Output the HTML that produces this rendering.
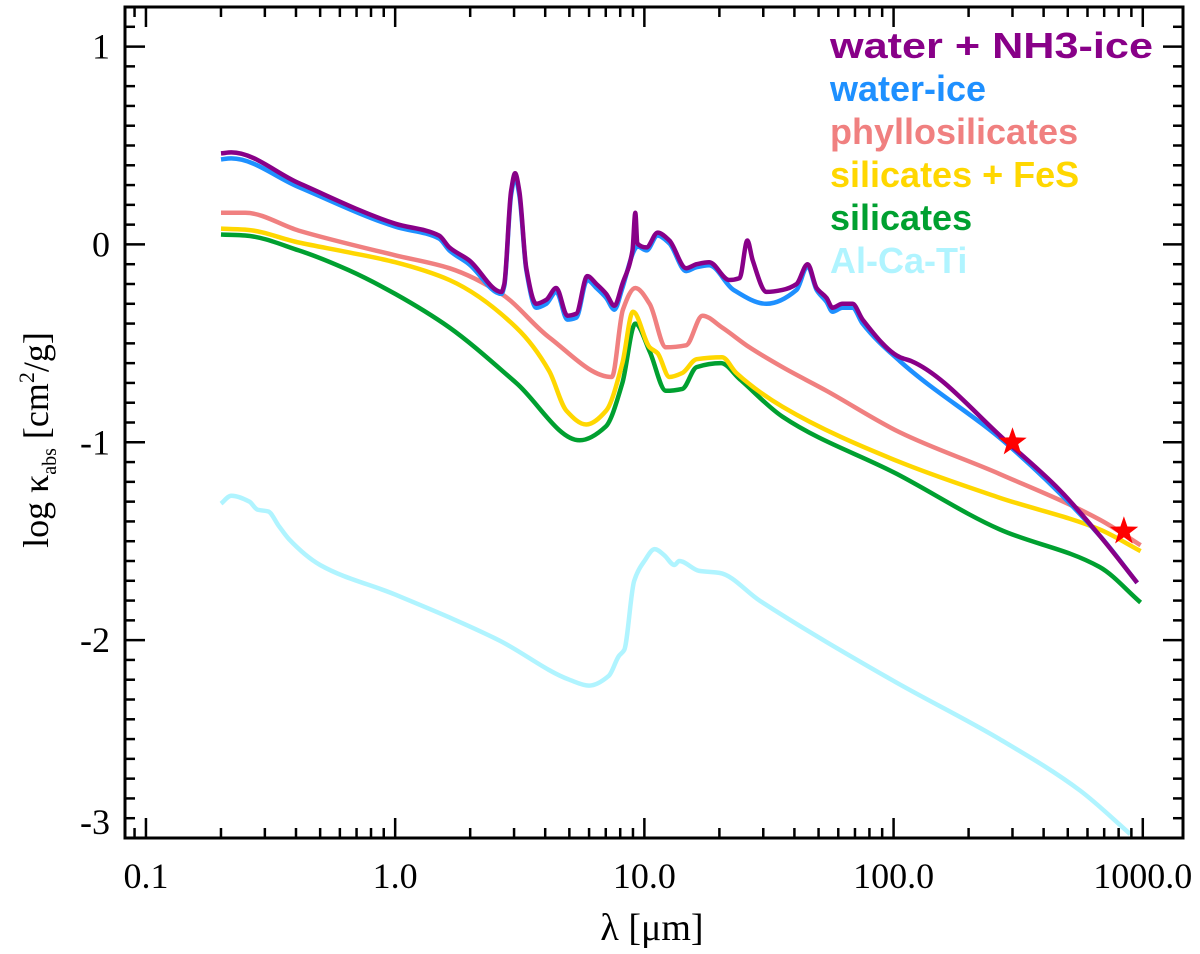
<!DOCTYPE html>
<html><head><meta charset="utf-8"><style>
html,body{margin:0;padding:0;background:#fff;}
svg{display:block;}
</style></head><body>
<svg id="chart" width="1200" height="954" xmlns="http://www.w3.org/2000/svg">
<g id="plot"></g>
<g id="axes"></g>
<g id="legend" font-family="'Liberation Sans', sans-serif" font-weight="bold" font-size="36">
<text x="830" y="58" fill="#880088" textLength="323" lengthAdjust="spacingAndGlyphs">water + NH3-ice</text>
<text x="830" y="101" fill="#1e90ff">water-ice</text>
<text x="830" y="144" fill="#f08080">phyllosilicates</text>
<text x="830" y="187" fill="#ffd700">silicates + FeS</text>
<text x="830" y="230" fill="#00a030">silicates</text>
<text x="830" y="273" fill="#b0f4ff">Al-Ca-Ti</text>
</g>
<text x="652" y="940" text-anchor="middle" font-family="'Liberation Serif', serif" font-size="38">λ [μm]</text>
<text transform="translate(48,440) rotate(-90)" text-anchor="middle" font-family="'Liberation Serif', serif" font-size="36">log κ<tspan font-size="20" dy="8">abs</tspan><tspan dy="-8"> [cm</tspan><tspan font-size="22" dy="-14">2</tspan><tspan dy="14">/g]</tspan></text>
</svg>
<script>
const xTickValues = [0.1, 1, 10, 100, 1000];
const xTickLabels = ["0.1", "1.0", "10.0", "100.0", "1000.0"];
const yTickValues = [1, 0, -1, -2, -3];
const yTickLabels = ["1", "0", "-1", "-2", "-3"];

const lamNH3 = [0.2,0.22,0.41,1.0,1.5,1.65,1.98,2.67,2.74,2.92,3.03,3.15,3.36,3.68,4.04,4.43,4.91,5.33,5.9,6.42,7.03,7.58,8.16,8.96,9.2,9.37,10.2,11.3,12.6,14.7,16.2,18.2,21.9,24.1,25.9,27.2,30.9,35.8,40.8,45.2,49.1,53.8,56.9,62.4,68.4,75.1,106,118,286,463,670,950];
const valNH3 = [0.46,0.465,0.31,0.105,0.045,-0.015,-0.08,-0.24,-0.2,0.27,0.36,0.27,-0.12,-0.3,-0.28,-0.22,-0.36,-0.35,-0.16,-0.2,-0.25,-0.31,-0.2,-0.03,0.16,0.005,-0.015,0.06,0.02,-0.12,-0.1,-0.09,-0.18,-0.17,0.02,-0.08,-0.24,-0.23,-0.2,-0.1,-0.22,-0.27,-0.32,-0.3,-0.3,-0.38,-0.57,-0.59,-1.0,-1.24,-1.47,-1.71];

const lamWater = [0.2,0.22,0.41,1.0,1.5,1.65,1.98,2.67,2.74,2.92,3.03,3.15,3.36,3.68,4.04,4.43,4.91,5.33,5.9,6.42,7.03,7.58,8.16,8.96,9.2,9.37,10.2,11.3,12.6,14.7,16.2,18.2,22.8,30.9,40.8,45.2,49.1,53.8,56.9,62.4,68.4,75.1,106,286,670,950];
const valWater = [0.43,0.435,0.29,0.09,0.03,-0.03,-0.1,-0.25,-0.21,0.25,0.34,0.25,-0.13,-0.32,-0.3,-0.24,-0.38,-0.37,-0.18,-0.22,-0.27,-0.33,-0.22,-0.05,-0.02,-0.01,-0.03,0.045,0.005,-0.135,-0.115,-0.105,-0.23,-0.3,-0.23,-0.11,-0.23,-0.29,-0.34,-0.32,-0.32,-0.4,-0.59,-1.01,-1.47,-1.71];

const lamPhyllo = [0.2,0.25,0.41,1.0,1.65,2.67,4.15,7.4,8.2,9.2,10.5,12.2,14.7,17.1,20.5,26.4,35.8,53.8,106,266,670,980];
const valPhyllo = [0.16,0.16,0.07,-0.055,-0.12,-0.25,-0.47,-0.67,-0.33,-0.22,-0.3,-0.52,-0.51,-0.36,-0.42,-0.52,-0.62,-0.74,-0.95,-1.16,-1.39,-1.52];

const lamSilFeS = [0.2,0.25,0.41,0.65,1.0,1.65,3.06,4.15,4.86,5.84,7.03,8.16,9.0,10.5,11.3,12.6,14.2,16.2,20.5,23.4,35.8,106,266,670,980];
const valSilFeS = [0.08,0.075,0.01,-0.04,-0.09,-0.18,-0.42,-0.64,-0.84,-0.91,-0.84,-0.6,-0.34,-0.52,-0.55,-0.67,-0.65,-0.58,-0.57,-0.65,-0.82,-1.1,-1.28,-1.44,-1.55];

const lamSil = [0.2,0.25,0.41,0.65,1.0,1.65,3.06,5.5,7.0,8.16,9.2,10.5,12.2,14.2,16.2,20.3,24.1,35.8,103,266,670,980];
const valSil = [0.05,0.045,-0.03,-0.13,-0.25,-0.42,-0.7,-0.99,-0.92,-0.7,-0.4,-0.54,-0.74,-0.73,-0.62,-0.6,-0.68,-0.87,-1.16,-1.44,-1.63,-1.81];

const lamAlCaTi = [0.2,0.22,0.26,0.28,0.31,0.34,0.375,0.5,1.0,2.6,5.0,6.0,7.2,7.9,8.3,9.1,10,11,12,13.2,13.8,16.6,20,29,98,266,560,890];
const valAlCaTi = [-1.31,-1.27,-1.3,-1.34,-1.35,-1.42,-1.49,-1.62,-1.77,-2.0,-2.2,-2.23,-2.18,-2.08,-2.05,-1.7,-1.6,-1.54,-1.57,-1.62,-1.6,-1.65,-1.66,-1.8,-2.2,-2.5,-2.76,-2.98];

const starLam = [300, 840];
const starVal = [-1.0, -1.45];

const NS = "http://www.w3.org/2000/svg";
const L = 125, R = 1183, T = 7, B = 838;
const xMinLog = Math.log10(0.0824), xMaxLog = Math.log10(1450);
const yMin = -3, yMax = 1.2;
function xs(v){ return L + (Math.log10(v) - xMinLog) / (xMaxLog - xMinLog) * (R - L); }
function ys(v){ return B - (v - yMin) / (yMax - yMin) * (B - T); }

const plot = document.getElementById('plot');
const axes = document.getElementById('axes');
function mk(tag, attrs, parent){ const e = document.createElementNS(NS, tag); for (const k in attrs) e.setAttribute(k, attrs[k]); parent.appendChild(e); return e; }

const clip = mk('clipPath', {id:'clp'}, plot);
mk('rect', {x:L, y:T, width:R-L, height:B-T}, clip);

// monotone cubic path through screen points
function monoPath(px, py){
  const n = px.length;
  if (n < 3){ return 'M' + px.map((x,i)=>x.toFixed(1)+','+py[i].toFixed(1)).join('L'); }
  const dx = [], s = [];
  for (let i = 0; i < n-1; i++){ dx.push(px[i+1]-px[i]); s.push((py[i+1]-py[i])/dx[i]); }
  const m = [s[0]];
  for (let i = 1; i < n-1; i++){
    if (s[i-1]*s[i] <= 0) m.push(0);
    else { const w1 = 2*dx[i]+dx[i-1], w2 = dx[i]+2*dx[i-1]; m.push((w1+w2)/(w1/s[i-1]+w2/s[i])); }
  }
  m.push(s[n-2]);
  let d = 'M' + px[0].toFixed(1) + ',' + py[0].toFixed(1);
  for (let i = 0; i < n-1; i++){
    const h = dx[i]/3;
    d += 'C' + (px[i]+h).toFixed(1) + ',' + (py[i]+m[i]*h).toFixed(1) + ' ' + (px[i+1]-h).toFixed(1) + ',' + (py[i+1]-m[i+1]*h).toFixed(1) + ' ' + px[i+1].toFixed(1) + ',' + py[i+1].toFixed(1);
  }
  return d;
}

function drawSeries(lams, vals, color, name){
  const px = lams.map(xs), py = vals.map(ys);
  const p = mk('path', {d:monoPath(px, py), fill:'none', stroke:color, 'stroke-width':4.5, 'stroke-linejoin':'round', 'clip-path':'url(#clp)'}, plot);
  
  
}
drawSeries(lamAlCaTi, valAlCaTi, '#b0f4ff', 'line-al-ca-ti');
drawSeries(lamSil, valSil, '#00a030', 'line-silicates');
drawSeries(lamSilFeS, valSilFeS, '#ffd700', 'line-silicates-fes');
drawSeries(lamPhyllo, valPhyllo, '#f08080', 'line-phyllosilicates');
drawSeries(lamWater, valWater, '#1e90ff', 'line-water-ice');
drawSeries(lamNH3, valNH3, '#880088', 'line-water-nh3-ice');

for (let i = 0; i < starLam.length; i++){
  const cx = xs(starLam[i]), cy = ys(starVal[i]);
  let pts = [];
  for (let k = 0; k < 10; k++){
    const r = k % 2 ? 6 : 15, a = -Math.PI/2 + k * Math.PI/5;
    pts.push((cx + r*Math.cos(a)).toFixed(1) + ',' + (cy + r*Math.sin(a)).toFixed(1));
  }
  const s = mk('polygon', {points:pts.join(' '), fill:'#ff0000'}, plot);
  
  
}

const fr = mk('rect', {x:L, y:T, width:R-L, height:B-T, fill:'none', stroke:'#000', 'stroke-width':3}, axes);



for (let dec = -2; dec <= 3; dec++){
  for (let m = 1; m <= 9; m++){
    const v = m * Math.pow(10, dec);
    const x = xs(v);
    if (x < L + 1 || x > R - 1) continue;
    const len = m === 1 ? 20 : 10;
    mk('line', {x1:x, y1:B, x2:x, y2:B-len, stroke:'#000', 'stroke-width':2.5}, axes);
    mk('line', {x1:x, y1:T, x2:x, y2:T+len, stroke:'#000', 'stroke-width':2.5}, axes);
  }
}
for (let i = 0; i < xTickValues.length; i++){
  const t = mk('text', {x:xs(xTickValues[i]), y:B+50, 'text-anchor':'middle', 'font-family':"'Liberation Serif', serif", 'font-size':36}, axes);
  t.textContent = xTickLabels[i];
  
  
}
for (let k = -30; k <= 12; k++){
  const v = k / 10, y = ys(v);
  const len = k % 10 === 0 ? 20 : 10;
  mk('line', {x1:L, y1:y, x2:L+len, y2:y, stroke:'#000', 'stroke-width':2.5}, axes);
  mk('line', {x1:R, y1:y, x2:R-len, y2:y, stroke:'#000', 'stroke-width':2.5}, axes);
}
for (let i = 0; i < yTickValues.length; i++){
  let y = ys(yTickValues[i]) + 12;
  if (yTickValues[i] === -3) y = ys(-3) - 4;
  const t = mk('text', {x:L-15, y:y, 'text-anchor':'end', 'font-family':"'Liberation Serif', serif", 'font-size':36}, axes);
  t.textContent = yTickLabels[i];
  
  
}
</script>
</body></html>
